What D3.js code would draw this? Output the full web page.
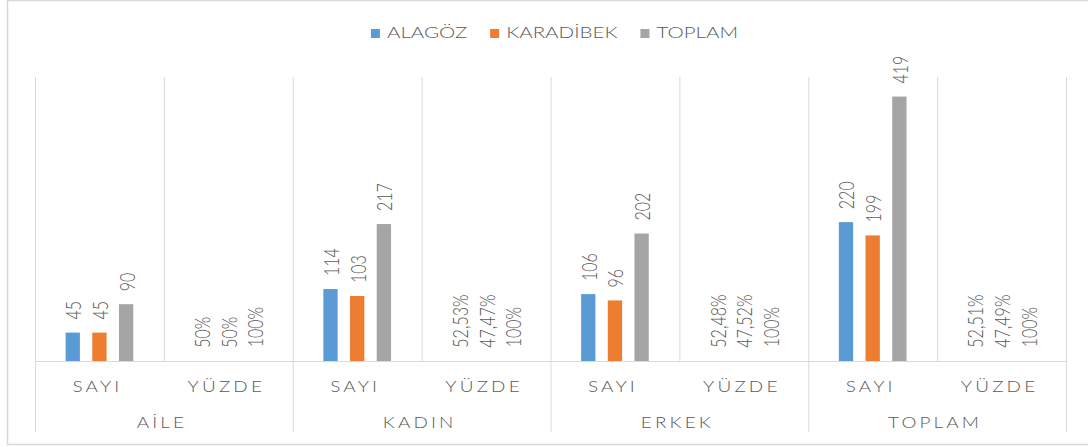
<!DOCTYPE html>
<html><head><meta charset="utf-8">
<script src="https://cdn.jsdelivr.net/npm/d3@7"></script>
<style>body{margin:0;background:#fff}svg{display:block}</style>
</head><body><svg id="c" width="1088" height="447"></svg>
<script>
// ---- data ----
const groups = ["AİLE", "KADIN", "ERKEK", "TOPLAM"];
const subs = ["SAYI", "YÜZDE"];
const seriesNames = ["ALAGÖZ", "KARADİBEK", "TOPLAM"];
const alagoz    = [45, 0.50, 114, 0.5253, 106, 0.5248, 220, 0.5251];
const karadibek = [45, 0.50, 103, 0.4747,  96, 0.4752, 199, 0.4749];
const toplam    = [90, 1.00, 217, 1.0000, 202, 1.0000, 419, 1.0000];
const yMax = 450;

// ---- styles ----
const colors = ["#5B9BD5", "#ED7D31", "#A5A5A5"];
const textCol = "#595959", gridCol = "#D9D9D9";
const FONT = "Lato, 'Open Sans', sans-serif";
const WEIGHT = 300;
const SX = 1.33;   // horizontal stretch of rotated label glyphs
const SXH = 1.22;  // horizontal stretch of horizontal text

const svg = d3.select("#c");
const M = {left: 35, right: 1066, top: 77, base: 361};

svg.append("rect").attr("x", 7.5).attr("y", 0.5).attr("width", 1100).attr("height", 444)
  .attr("fill", "#fff").attr("stroke", gridCol).attr("stroke-width", 1.5);

const cats = [];
groups.forEach(g => subs.forEach(s => cats.push(g + "|" + s)));
const values = [alagoz, karadibek, toplam];

const x = d3.scaleBand().domain(cats).range([M.left, M.right]);
const xg = d3.scaleBand().domain(groups).range([M.left, M.right]);
const xs = d3.scaleBand().domain(seriesNames).range([0, x.bandwidth()])
  .paddingInner(0.464).paddingOuter(1.147);
const y = d3.scaleLinear().domain([0, yMax]).range([M.base, M.top]);

const bounds = cats.map(c => x(c)).concat([M.right]);
bounds.forEach((bx, i) => {
  const isGroup = i % 2 === 0;
  svg.append("line").attr("x1", bx + 0.5).attr("x2", bx + 0.5)
    .attr("y1", M.top).attr("y2", isGroup ? 432 : M.base)
    .attr("stroke", gridCol).attr("stroke-width", 1);
});
svg.append("line").attr("x1", M.left).attr("x2", M.right)
  .attr("y1", M.base + 0.5).attr("y2", M.base + 0.5)
  .attr("stroke", gridCol).attr("stroke-width", 1);

function fmt(v, sub) {
  if (sub === "SAYI") return String(v);
  const p = Math.round(v * 10000) / 100;
  return String(p).replace(".", ",") + "%";
}
seriesNames.forEach((name, si) => {
  cats.forEach((c, ci) => {
    const v = values[si][ci];
    const sub = c.split("|")[1];
    const bx = x(c) + xs(name);
    const h = M.base - y(v);
    if (h >= 1) {
      svg.append("rect").attr("x", bx).attr("y", y(v))
        .attr("width", xs.bandwidth()).attr("height", h)
        .attr("fill", colors[si]);
    }
    const cx = bx + xs.bandwidth() / 2;
    svg.append("text")
      .attr("transform", `translate(${cx},${y(v) - 13}) scale(${SX},1) rotate(-90)`)
      .attr("dominant-baseline", "central")
      .attr("text-anchor", "start")
      .attr("font-family", FONT).attr("font-weight", WEIGHT).attr("font-size", 16)
      .attr("fill", textCol)
      .text(fmt(v, sub));
  });
});

function axisLabel(txt, cx, cy) {
  svg.append("text")
    .attr("transform", `translate(${cx - 2},${cy}) scale(${SXH},1)`)
    .attr("text-anchor", "middle").attr("letter-spacing", 2.6)
    .attr("font-family", FONT).attr("font-weight", WEIGHT).attr("font-size", 15.5).attr("fill", textCol)
    .text(txt);
}
cats.forEach(c => axisLabel(c.split("|")[1], x(c) + x.bandwidth() / 2, 391.5));
groups.forEach(g => axisLabel(g, xg(g) + xg.bandwidth() / 2, 428.3));

const leg = svg.append("g");
let lx = 0;
seriesNames.forEach((name, i) => {
  leg.append("rect").attr("x", lx).attr("y", 29).attr("width", 9).attr("height", 9).attr("fill", colors[i]);
  const t = leg.append("text")
    .attr("transform", `translate(${lx + 16},38) scale(1.26,1)`)
    .attr("font-family", FONT).attr("font-weight", WEIGHT).attr("font-size", 16.3).attr("fill", textCol)
    .text(name);
  lx += 16 + t.node().getComputedTextLength() * 1.26 + 23;
});
const legW = lx - 23;
leg.attr("transform", `translate(${554.5 - legW / 2},0)`);
</script></body></html>
